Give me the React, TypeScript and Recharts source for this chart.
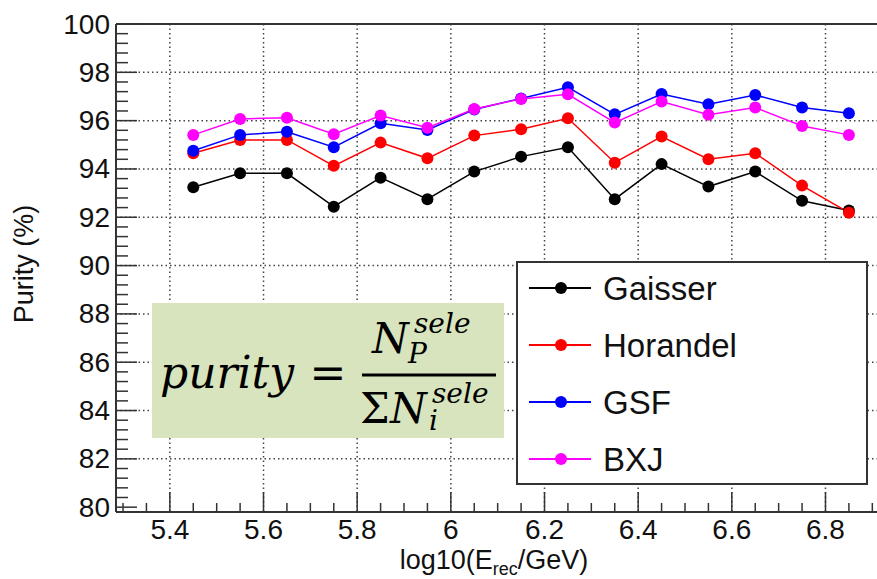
import React from 'react';
import { LineChart, Line, XAxis, YAxis, CartesianGrid, ReferenceLine, Legend } from 'recharts';

// reconstructed log10(E_rec/GeV) bin centres
const energy = [5.45, 5.55, 5.65, 5.75, 5.85, 5.95, 6.05, 6.15, 6.25, 6.35, 6.45, 6.55, 6.65, 6.75, 6.85];

// purity (%) per composition model
const gaisser = [93.24, 93.82, 93.82, 92.44, 93.64, 92.75, 93.89, 94.51, 94.9, 92.75, 94.2, 93.27, 93.89, 92.68, 92.28];
const horandel = [94.65, 95.2, 95.2, 94.13, 95.09, 94.44, 95.38, 95.64, 96.1, 94.26, 95.34, 94.4, 94.65, 93.31, 92.19];
const gsf = [94.75, 95.41, 95.54, 94.9, 95.89, 95.61, 96.46, 96.92, 97.38, 96.26, 97.1, 96.68, 97.06, 96.54, 96.31];
const bxj = [95.41, 96.07, 96.12, 95.44, 96.21, 95.71, 96.48, 96.9, 97.09, 95.92, 96.79, 96.24, 96.54, 95.78, 95.41];

const yMajorTicks = [80, 82, 84, 86, 88, 90, 92, 94, 96, 98, 100];
const xMajorTicks = [5.4, 5.6, 5.8, 6, 6.2, 6.4, 6.6, 6.8];
const xTickLabels = ['5.4', '5.6', '5.8', '6', '6.2', '6.4', '6.6', '6.8'];

const series = [
  { key: 'gaisser', name: 'Gaisser', color: '#000000', values: gaisser },
  { key: 'horandel', name: 'Horandel', color: '#ff0000', values: horandel },
  { key: 'gsf', name: 'GSF', color: '#0000ff', values: gsf },
  { key: 'bxj', name: 'BXJ', color: '#ff00ff', values: bxj },
];

const data = energy.map((e, i) => {
  const row: Record<string, number> = { e };
  series.forEach(s => { row[s.key] = s.values[i]; });
  return row;
});

// minor ticks: 0.4 on y, 0.05 on x
const yTicks = Array.from({ length: 51 }, (_, i) => +(80 + i * 0.4).toFixed(1));
const xTicks = Array.from({ length: 33 }, (_, i) => +(5.3 + i * 0.05).toFixed(2));

const FONT = '"Liberation Sans", Arial, Helvetica, sans-serif';
const AXIS = '#333';

const YTick = (props: any) => {
  const { x, y, payload } = props;
  const v = payload.value;
  const major = yMajorTicks.includes(v);
  return (
    <g>
      <line x1={x} x2={x + (major ? 21 : 12)} y1={y} y2={y} stroke={AXIS} strokeWidth={1.5} />
      {major && (
        <text x={x - 6} y={y} textAnchor="end" dominantBaseline="central" fontSize={28} fontFamily={FONT} fill="#111">
          {v}
        </text>
      )}
    </g>
  );
};

const XTick = (props: any) => {
  const { x, y, payload } = props;
  const v = payload.value;
  const idx = xMajorTicks.findIndex(t => Math.abs(t - v) < 1e-6);
  const major = idx >= 0;
  return (
    <g>
      <line x1={x} x2={x} y1={y} y2={y - (major ? 20 : 9)} stroke={AXIS} strokeWidth={1.5} />
      {major && (
        <text x={x} y={y + 27} textAnchor="middle" fontSize={28} fontFamily={FONT} fill="#111">
          {xTickLabels[idx]}
        </text>
      )}
    </g>
  );
};

// legend keeps the series order (Recharts would sort the payload by name)
const LegendBox = () => (
  <svg width={352} height={224} style={{ display: 'block' }}>
    <rect x={1} y={1} width={350} height={222} fill="#fff" stroke={AXIS} strokeWidth={2} />
    {series.map((s, i) => {
      const cy = 27 + i * 57;
      return (
        <g key={s.key}>
          <line x1={13} x2={75} y1={cy} y2={cy} stroke={s.color} strokeWidth={2} />
          <circle cx={45} cy={cy} r={6} fill={s.color} />
          <text x={87} y={cy} dominantBaseline="central" fontSize={33} fontFamily={FONT} fill="#111">
            {s.name}
          </text>
        </g>
      );
    })}
  </svg>
);

const Formula = () => {
  const serif = '"DejaVu Serif", serif';
  return (
    <svg width={352} height={135} style={{ position: 'absolute', left: 152, top: 303, overflow: 'visible' }}>
      <rect x={0} y={0} width={352} height={135} fill="#d7e4bd" />
      <g fontFamily={serif} fill="#000">
        <text x={8} y={85} fontSize={44} fontStyle="italic">purity</text>
        <text x={176} y={85} fontSize={44} textAnchor="middle">=</text>
        <line x1={210} x2={344} y1={72} y2={72} stroke="#000" strokeWidth={3} />
        <text x={220} y={50} fontSize={42} fontStyle="italic">N</text>
        <text x={262} y={30} fontSize={28} fontStyle="italic">sele</text>
        <text x={256} y={60} fontSize={28} fontStyle="italic">P</text>
        <text x={208} y={120} fontSize={42}>Σ</text>
        <text x={238} y={120} fontSize={42} fontStyle="italic">N</text>
        <text x={280} y={100} fontSize={28} fontStyle="italic">sele</text>
        <text x={277} y={127} fontSize={28} fontStyle="italic">i</text>
      </g>
    </svg>
  );
};

const App: React.FC = () => {
  return (
    <div style={{ position: 'absolute', left: 0, top: 0, width: 877, height: 579, background: '#fff' }}>
      <LineChart width={877} height={579} data={data} margin={{ top: 24, right: 0, bottom: 0, left: 0 }}>
        <CartesianGrid
          stroke="#444"
          strokeWidth={1.5}
          strokeDasharray="1.5 3"
          horizontalValues={[82, 84, 86, 88, 90, 92, 94, 96, 98]}
          verticalValues={xMajorTicks}
        />
        <XAxis
          dataKey="e"
          type="number"
          domain={[5.285, 6.91]}
          ticks={xTicks}
          interval={0}
          allowDataOverflow
          height={67}
          tickSize={0}
          tickMargin={0}
          tickLine={false}
          axisLine={{ stroke: AXIS, strokeWidth: 2 }}
          tick={<XTick />}
          label={{
            content: () => (
              <text x={494} y={569} textAnchor="middle" fontSize={27} fontFamily={FONT} fill="#111">
                <tspan>log10(E</tspan>
                <tspan fontSize={18} dy={6}>rec</tspan>
                <tspan dy={-6}>/GeV)</tspan>
              </text>
            ),
          }}
        />
        <YAxis
          type="number"
          domain={[79.8, 100]}
          ticks={yTicks}
          interval={0}
          allowDataOverflow
          width={116}
          tickSize={0}
          tickMargin={0}
          tickLine={false}
          axisLine={{ stroke: AXIS, strokeWidth: 2 }}
          tick={<YTick />}
          label={{
            content: () => (
              <text x={33} y={264} transform="rotate(-90 33 264)" textAnchor="middle" fontSize={27} fontFamily={FONT} fill="#111">
                Purity (%)
              </text>
            ),
          }}
        />
        <ReferenceLine y={100} stroke={AXIS} strokeWidth={2} />
        <Legend
          layout="horizontal"
          verticalAlign="middle"
          align="center"
          content={<LegendBox />}
          wrapperStyle={{ position: 'absolute', left: 516, top: 261, width: 352, height: 224 }}
        />
        {series.map(s => (
          <Line
            key={s.key}
            dataKey={s.key}
            name={s.name}
            stroke={s.color}
            strokeWidth={1.5}
            dot={{ r: 6, fill: s.color, stroke: s.color, strokeWidth: 0 }}
            activeDot={false}
            isAnimationActive={false}
          />
        ))}
      </LineChart>
      <Formula />
    </div>
  );
};

export default App;
